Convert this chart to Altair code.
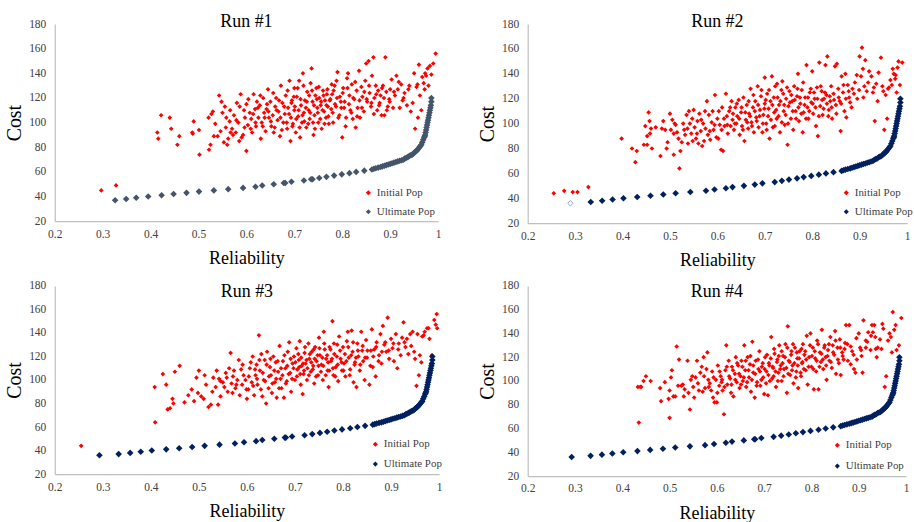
import altair as alt
import pandas as pd

X_TICKS = [0.2, 0.3, 0.4, 0.5, 0.6, 0.7, 0.8, 0.9, 1.0]
Y_TICKS = [20, 40, 60, 80, 100, 120, 140, 160, 180]
TITLES = ["Run #1", "Run #2", "Run #3", "Run #4"]
SERIES = ["Initial Pop", "Ultimate Pop"]

# ---------------- Initial population (red) ----------------
RUN1_INIT_X = [0.297, 0.328, 0.414, 0.416, 0.422, 0.44, 0.443, 0.456, 0.46, 0.487, 0.488, 0.49, 0.501, 0.502,
               0.521, 0.522, 0.525, 0.527, 0.53, 0.532, 0.54, 0.543, 0.546, 0.55, 0.553, 0.555, 0.557, 0.56, 0.562,
               0.565, 0.567, 0.57, 0.574, 0.578, 0.58, 0.583, 0.585, 0.588, 0.59, 0.593, 0.595, 0.597, 0.6, 0.6,
               0.603, 0.607, 0.61, 0.612, 0.615, 0.618, 0.62, 0.622, 0.625, 0.628, 0.63, 0.632, 0.635, 0.637, 0.64,
               0.642, 0.645, 0.647, 0.65, 0.652, 0.655, 0.657, 0.66, 0.662, 0.665, 0.667, 0.67, 0.672, 0.675, 0.677,
               0.68, 0.682, 0.685, 0.687, 0.69, 0.692, 0.693, 0.695, 0.697, 0.7, 0.7,
               0.703, 0.705, 0.708, 0.71, 0.712, 0.714, 0.716, 0.718, 0.72, 0.722, 0.725, 0.727, 0.73, 0.732, 0.734,
               0.736, 0.738, 0.74, 0.742, 0.744, 0.746, 0.748, 0.75, 0.752, 0.755, 0.757, 0.76, 0.762, 0.764, 0.766,
               0.768, 0.77, 0.772, 0.775, 0.778, 0.78, 0.782, 0.785, 0.788, 0.79, 0.792, 0.795, 0.798,
               0.8, 0.802, 0.805, 0.808, 0.81, 0.812, 0.815, 0.817, 0.82, 0.822, 0.825, 0.828, 0.83, 0.832, 0.835,
               0.837, 0.84, 0.842, 0.845, 0.848, 0.85, 0.852, 0.855, 0.857, 0.86, 0.862, 0.865, 0.867, 0.87, 0.873,
               0.875, 0.878, 0.88, 0.882, 0.885, 0.888, 0.89, 0.892, 0.895, 0.898,
               0.9, 0.903, 0.906, 0.91, 0.913, 0.916, 0.92, 0.923, 0.926, 0.93, 0.935, 0.94, 0.943, 0.947, 0.95,
               0.952, 0.955, 0.958, 0.96, 0.962, 0.965, 0.967, 0.97, 0.972, 0.975, 0.978, 0.98, 0.983, 0.986, 0.99, 0.995]
RUN1_INIT_Y = [45, 49, 92, 87, 106, 104, 95, 82, 89, 92, 91, 101, 94, 74,
               104, 78, 82, 107, 109, 89, 89, 122, 93, 108, 84, 113, 96, 82, 87,
               101, 92, 95, 106, 92, 116, 100, 85, 123, 88, 90, 110, 104, 77, 115,
               98, 108, 103, 92, 123, 111, 97, 117, 104, 114, 87, 100, 120, 108, 93,
               111, 127, 104, 117, 97, 106, 92, 113, 120, 102, 109, 89, 130, 116, 100,
               107, 122, 95, 112, 134, 85, 104, 118, 99, 110, 128,
               92, 121, 105, 134, 88, 114, 100, 140, 108, 118, 96, 125, 110, 103, 132,
               144, 117, 90, 106, 122, 128, 112, 100, 120, 114, 95, 126, 109, 118, 104,
               123, 113, 99, 119, 131, 108, 126, 115, 134, 141, 104, 121, 112,
               88, 128, 117, 104, 136, 140, 122, 110, 131, 103, 119, 96, 126, 112, 142,
               104, 129, 121, 109, 134, 148, 117, 150, 124, 113, 138, 153, 120, 130, 110,
               126, 116, 122, 106, 130, 106, 153, 125, 113, 119,
               127, 135, 112, 122, 138, 127, 112, 131, 118, 124, 114, 130, 109, 116, 140,
               95, 129, 104, 147, 122, 110, 137, 132, 127, 138, 144, 130, 146, 139, 148, 156]
RUN1_INIT_MORE = [(0.535, 99), (0.548, 117), (0.558, 104), (0.566, 110), (0.572, 90), (0.579, 102), (0.586, 113),
                  (0.596, 96), (0.604, 119), (0.609, 95), (0.614, 107), (0.619, 100), (0.624, 112), (0.629, 122),
                  (0.634, 97), (0.638, 104), (0.643, 115), (0.646, 109), (0.651, 101), (0.656, 124), (0.659, 96),
                  (0.663, 110), (0.668, 118), (0.671, 104), (0.674, 94), (0.679, 113), (0.684, 100), (0.686, 126),
                  (0.689, 107), (0.694, 116), (0.696, 97), (0.699, 121), (0.701, 113), (0.704, 103), (0.707, 128),
                  (0.709, 110), (0.711, 96), (0.713, 119), (0.717, 106), (0.719, 130), (0.721, 101), (0.724, 112),
                  (0.726, 117), (0.729, 99), (0.731, 122), (0.733, 108), (0.737, 126), (0.739, 100), (0.741, 114),
                  (0.743, 95), (0.747, 119), (0.749, 108), (0.751, 129), (0.754, 103), (0.756, 117), (0.759, 110),
                  (0.761, 122), (0.763, 99), (0.767, 114), (0.769, 127), (0.771, 105), (0.774, 118), (0.777, 111),
                  (0.779, 123), (0.781, 100), (0.784, 130), (0.787, 113), (0.789, 120), (0.794, 106), (0.797, 117),
                  (0.801, 124), (0.804, 112), (0.807, 97), (0.811, 128), (0.814, 115), (0.819, 108), (0.823, 120),
                  (0.827, 133), (0.831, 105), (0.836, 118), (0.841, 112), (0.846, 125), (0.851, 119), (0.856, 130),
                  (0.861, 116), (0.866, 107), (0.871, 123), (0.877, 114), (0.883, 128), (0.887, 120), (0.893, 110),
                  (0.899, 117), (0.908, 125), (0.918, 133), (0.928, 120), (0.938, 127), (0.957, 131), (0.973, 140)]

RUN2_INIT_X = [0.255, 0.277, 0.295, 0.305, 0.328, 0.398, 0.42, 0.427, 0.43, 0.445, 0.448, 0.452, 0.452, 0.455,
               0.457, 0.46, 0.462, 0.48, 0.483, 0.49, 0.493, 0.495, 0.5, 0.502, 0.505, 0.508, 0.51, 0.512, 0.515,
               0.52, 0.522, 0.525, 0.53, 0.532, 0.535, 0.538, 0.54, 0.542, 0.545, 0.548, 0.55, 0.552, 0.555, 0.558,
               0.56, 0.562, 0.565, 0.568, 0.57, 0.572, 0.575, 0.578, 0.58, 0.582, 0.585, 0.588, 0.59, 0.592, 0.595,
               0.598, 0.6,
               0.602, 0.605, 0.608, 0.61, 0.612, 0.615, 0.618, 0.62, 0.622, 0.625, 0.628, 0.63, 0.632, 0.635, 0.638,
               0.64, 0.642, 0.645, 0.647, 0.65, 0.652, 0.655, 0.657, 0.66, 0.662, 0.665, 0.667, 0.67, 0.672, 0.675,
               0.677, 0.68, 0.682, 0.685, 0.687, 0.69, 0.692, 0.695, 0.697, 0.7, 0.7,
               0.703, 0.705, 0.708, 0.71, 0.712, 0.715, 0.717, 0.72, 0.722, 0.725, 0.727, 0.73, 0.732, 0.735, 0.737,
               0.74, 0.742, 0.745, 0.748, 0.75, 0.752, 0.755, 0.758, 0.76, 0.762, 0.765, 0.768, 0.77, 0.772, 0.775,
               0.778, 0.78, 0.782, 0.785, 0.788, 0.79, 0.792, 0.795, 0.798,
               0.8, 0.802, 0.805, 0.808, 0.81, 0.812, 0.815, 0.817, 0.82, 0.822, 0.825, 0.828, 0.83, 0.832, 0.835,
               0.838, 0.84, 0.842, 0.845, 0.848, 0.85, 0.852, 0.855, 0.858, 0.86, 0.862, 0.865, 0.868, 0.87, 0.872,
               0.875, 0.878, 0.88, 0.885, 0.89, 0.895,
               0.9, 0.903, 0.905, 0.907, 0.91, 0.912, 0.915, 0.92, 0.925, 0.93, 0.932, 0.935, 0.94, 0.945, 0.948,
               0.95, 0.952, 0.955, 0.958, 0.96, 0.965, 0.968, 0.97, 0.972, 0.975, 0.978, 0.98, 0.982, 0.985, 0.99]
RUN2_INIT_Y = [44, 46, 45, 45, 49, 88, 80, 69, 78, 83, 98, 83, 90, 109,
               102, 96, 80, 74, 96, 95, 80, 85, 108, 95, 103, 75, 100, 99, 93,
               64, 78, 85, 95, 91, 107, 84, 110, 100, 92, 86, 111, 97, 88, 102,
               84, 108, 94, 82, 100, 86, 96, 118, 91, 107, 87, 101, 110, 95, 123,
               89, 104,
               88, 99, 79, 113, 78, 98, 124, 106, 92, 110, 98, 118, 103, 95, 113,
               100, 106, 119, 91, 109, 98, 121, 86, 103, 115, 96, 108, 128, 101, 113,
               93, 118, 105, 130, 97, 111, 122, 93, 107, 137, 116,
               100, 124, 112, 88, 118, 138, 97, 109, 130, 104, 121, 115, 93, 127, 134,
               110, 99, 120, 83, 114, 126, 104, 118, 95, 130, 110, 122, 140, 102, 116,
               127, 93, 109, 121, 147, 113, 104, 125, 117,
               142, 108, 120, 98, 129, 90, 149, 114, 126, 107, 120, 147, 123, 154, 111,
               118, 130, 104, 124, 146, 115, 148, 128, 118, 94, 138, 125, 110, 140, 105,
               131, 121, 117, 128, 133, 120,
               154, 138, 161, 144, 130, 151, 126, 142, 138, 129, 102, 132, 141, 153, 130,
               126, 95, 123, 104, 128, 135, 131, 144, 140, 136, 125, 145, 150, 131, 149]
RUN2_INIT_MORE = [(0.458, 92), (0.47, 97), (0.486, 102), (0.508, 92), (0.518, 88), (0.528, 100), (0.537, 96),
                  (0.547, 104), (0.557, 92), (0.566, 103), (0.574, 110), (0.584, 94), (0.594, 99), (0.603, 110),
                  (0.609, 95), (0.614, 104), (0.621, 99), (0.627, 113), (0.633, 108), (0.637, 100), (0.641, 116),
                  (0.646, 104), (0.651, 113), (0.654, 95), (0.659, 109), (0.663, 101), (0.666, 118), (0.669, 106),
                  (0.673, 98), (0.676, 123), (0.679, 110), (0.683, 102), (0.686, 115), (0.689, 106), (0.693, 127),
                  (0.696, 100), (0.699, 112), (0.702, 119), (0.704, 95), (0.707, 106), (0.709, 127), (0.713, 103),
                  (0.716, 115), (0.719, 121), (0.721, 98), (0.724, 111), (0.726, 132), (0.729, 106), (0.733, 118),
                  (0.736, 101), (0.739, 124), (0.741, 115), (0.744, 107), (0.747, 129), (0.749, 100), (0.753, 117),
                  (0.756, 123), (0.759, 110), (0.763, 119), (0.766, 104), (0.769, 128), (0.771, 113), (0.774, 121),
                  (0.777, 108), (0.781, 133), (0.784, 115), (0.787, 104), (0.791, 121), (0.794, 110), (0.797, 128),
                  (0.801, 116), (0.804, 125), (0.807, 113), (0.811, 120), (0.814, 106), (0.818, 130), (0.821, 119),
                  (0.824, 112), (0.827, 125), (0.831, 116), (0.834, 106), (0.837, 122), (0.841, 113), (0.846, 119),
                  (0.851, 108), (0.856, 121), (0.861, 116), (0.866, 131), (0.871, 120), (0.877, 126), (0.883, 113),
                  (0.888, 124), (0.894, 139), (0.899, 127), (0.908, 121), (0.918, 133), (0.928, 125), (0.938, 118),
                  (0.962, 129), (0.976, 139)]

RUN3_INIT_X = [0.255, 0.408, 0.409, 0.425, 0.432, 0.435, 0.44, 0.445, 0.447, 0.45, 0.46, 0.47, 0.478, 0.485,
               0.49, 0.495, 0.498, 0.5, 0.505, 0.51, 0.512, 0.52, 0.525, 0.53, 0.535, 0.537, 0.54, 0.542, 0.545,
               0.55, 0.553, 0.556, 0.56, 0.563, 0.566, 0.568, 0.57, 0.573, 0.576, 0.58, 0.583, 0.585, 0.588, 0.59,
               0.593, 0.597, 0.6,
               0.603, 0.606, 0.61, 0.612, 0.615, 0.618, 0.62, 0.622, 0.625, 0.627, 0.63, 0.632, 0.635, 0.637, 0.64,
               0.642, 0.645, 0.648, 0.65, 0.652, 0.655, 0.658, 0.66, 0.662, 0.665, 0.668, 0.67, 0.672, 0.675, 0.677,
               0.68, 0.683, 0.685, 0.688, 0.69, 0.692, 0.695, 0.698, 0.7,
               0.703, 0.705, 0.708, 0.71, 0.712, 0.714, 0.716, 0.718, 0.72, 0.722, 0.725, 0.728, 0.73, 0.733, 0.735,
               0.738, 0.74, 0.742, 0.745, 0.748, 0.75, 0.752, 0.755, 0.758, 0.76, 0.762, 0.765, 0.768, 0.77, 0.772,
               0.775, 0.778, 0.78, 0.782, 0.785, 0.788, 0.79, 0.792, 0.795, 0.798,
               0.8, 0.802, 0.805, 0.808, 0.81, 0.812, 0.815, 0.818, 0.82, 0.822, 0.825, 0.828, 0.83, 0.832, 0.835,
               0.838, 0.84, 0.842, 0.845, 0.848, 0.85, 0.855, 0.858, 0.86, 0.862, 0.865, 0.868, 0.87, 0.875, 0.878,
               0.88, 0.883, 0.886, 0.89, 0.893, 0.896,
               0.9, 0.903, 0.906, 0.91, 0.913, 0.916, 0.92, 0.923, 0.926, 0.93, 0.933, 0.936, 0.94, 0.945, 0.948,
               0.95, 0.953, 0.955, 0.958, 0.96, 0.963, 0.965, 0.97, 0.975, 0.978, 0.98, 0.985, 0.99, 0.993, 0.995, 0.996]
RUN3_INIT_Y = [44, 94, 64, 105, 96, 75, 76, 84, 80, 107, 112, 81, 87, 92,
               82, 102, 89, 108, 86, 84, 104, 77, 79, 102, 94, 108, 79, 101, 86,
               98, 94, 106, 90, 110, 123, 97, 89, 108, 93, 100, 117, 87, 109, 96,
               104, 100, 84,
               92, 110, 98, 120, 87, 104, 113, 96, 138, 108, 122, 86, 100, 117, 80,
               124, 93, 111, 104, 89, 120, 98, 115, 85, 107, 129, 101, 93, 116, 85,
               110, 99, 124, 132, 106, 90, 114, 120, 100,
               127, 109, 117, 133, 96, 112, 88, 105, 123, 114, 100, 131, 118, 107, 124,
               112, 97, 128, 116, 104, 136, 121, 113, 100, 141, 126, 118, 108, 94, 128,
               116, 150, 104, 122, 111, 130, 99, 137, 118, 108,
               128, 114, 103, 133, 141, 119, 109, 142, 124, 98, 115, 94, 131, 120, 108,
               141, 125, 116, 100, 134, 119, 96, 125, 143, 111, 126, 103, 132, 121, 139,
               114, 146, 130, 124, 153, 118,
               135, 127, 116, 139, 110, 131, 121, 136, 149, 128, 135, 122, 139, 141, 124,
               118, 95, 139, 104, 121, 115, 137, 141, 144, 144, 135, 121, 151, 147, 156, 144]
RUN3_INIT_MORE = [(0.515, 96), (0.528, 90), (0.545, 99), (0.558, 102), (0.571, 103), (0.578, 96), (0.591, 113),
                  (0.599, 92), (0.604, 103), (0.608, 115), (0.613, 95), (0.617, 109), (0.621, 101), (0.626, 117),
                  (0.629, 92), (0.633, 106), (0.638, 99), (0.641, 113), (0.646, 103), (0.649, 118), (0.653, 97),
                  (0.657, 108), (0.661, 101), (0.664, 116), (0.667, 93), (0.671, 110), (0.674, 104), (0.678, 121),
                  (0.681, 97), (0.684, 112), (0.687, 105), (0.691, 118), (0.694, 101), (0.697, 110), (0.701, 115),
                  (0.704, 103), (0.707, 122), (0.709, 111), (0.711, 105), (0.713, 119), (0.717, 114), (0.719, 108),
                  (0.721, 128), (0.724, 117), (0.726, 110), (0.729, 104), (0.731, 122), (0.734, 115), (0.737, 109),
                  (0.739, 126), (0.741, 118), (0.744, 103), (0.747, 121), (0.749, 112), (0.751, 127), (0.754, 107),
                  (0.757, 119), (0.759, 112), (0.761, 131), (0.764, 104), (0.767, 121), (0.769, 115), (0.771, 108),
                  (0.774, 126), (0.777, 118), (0.779, 110), (0.781, 131), (0.784, 103), (0.787, 120), (0.789, 113),
                  (0.794, 125), (0.797, 115), (0.801, 108), (0.804, 122), (0.807, 116), (0.811, 128), (0.814, 104),
                  (0.817, 121), (0.821, 132), (0.824, 113), (0.827, 119), (0.831, 125), (0.836, 113), (0.841, 129),
                  (0.846, 119), (0.851, 125), (0.857, 112), (0.863, 120), (0.869, 128), (0.874, 116), (0.881, 124),
                  (0.888, 132), (0.895, 125), (0.905, 131), (0.915, 126), (0.928, 132), (0.942, 129), (0.968, 138)]

RUN4_INIT_X = [0.433, 0.435, 0.438, 0.44, 0.445, 0.45, 0.46, 0.48, 0.482, 0.49, 0.498, 0.5, 0.5, 0.503,
               0.505, 0.508, 0.512, 0.515, 0.518, 0.52, 0.525, 0.53, 0.532, 0.538, 0.54, 0.543, 0.548, 0.55, 0.552,
               0.555, 0.558, 0.56, 0.565, 0.568, 0.57, 0.572, 0.575, 0.578, 0.58, 0.582, 0.585, 0.588, 0.59, 0.592,
               0.595, 0.598, 0.6,
               0.602, 0.605, 0.608, 0.61, 0.612, 0.615, 0.618, 0.62, 0.622, 0.625, 0.628, 0.63, 0.632, 0.635, 0.638,
               0.64, 0.642, 0.645, 0.648, 0.65, 0.652, 0.655, 0.658, 0.66, 0.662, 0.665, 0.668, 0.67, 0.672, 0.675,
               0.677, 0.68, 0.682, 0.685, 0.688, 0.69, 0.692, 0.695, 0.698, 0.7,
               0.702, 0.705, 0.708, 0.71, 0.712, 0.715, 0.718, 0.72, 0.722, 0.725, 0.728, 0.73, 0.732, 0.735, 0.737,
               0.74, 0.742, 0.745, 0.748, 0.75, 0.752, 0.755, 0.758, 0.76, 0.762, 0.765, 0.768, 0.77, 0.772, 0.775,
               0.778, 0.78, 0.782, 0.785, 0.788, 0.79, 0.792, 0.795, 0.798,
               0.8, 0.803, 0.805, 0.808, 0.81, 0.812, 0.815, 0.818, 0.82, 0.822, 0.825, 0.828, 0.83, 0.832, 0.835,
               0.838, 0.84, 0.843, 0.845, 0.848, 0.85, 0.852, 0.855, 0.858, 0.86, 0.862, 0.865, 0.868, 0.87, 0.873,
               0.876, 0.88, 0.883, 0.886, 0.89, 0.893, 0.896,
               0.9, 0.903, 0.906, 0.908, 0.91, 0.915, 0.918, 0.92, 0.925, 0.928, 0.93, 0.933, 0.935, 0.938, 0.94,
               0.945, 0.948, 0.95, 0.952, 0.955, 0.958, 0.965, 0.968, 0.97, 0.972, 0.975, 0.978, 0.98, 0.985, 0.99]
RUN4_INIT_Y = [95, 65, 95, 95, 100, 104, 100, 94, 83, 99, 85, 92, 69, 103,
               109, 87, 87, 129, 96, 118, 96, 87, 93, 117, 90, 76, 104, 95, 86,
               103, 117, 98, 107, 112, 91, 120, 94, 110, 124, 101, 98, 92, 108, 86,
               82, 101, 82,
               113, 96, 104, 99, 92, 72, 109, 130, 97, 117, 102, 90, 112, 87, 106,
               120, 99, 113, 94, 104, 117, 100, 130, 109, 95, 120, 103, 114, 91, 133,
               107, 86, 117, 99, 110, 125, 96, 112, 103, 89,
               120, 108, 88, 115, 100, 137, 112, 104, 123, 95, 118, 107, 130, 113, 100,
               121, 110, 131, 90, 146, 117, 105, 125, 113, 98, 128, 108, 119, 94, 125,
               104, 115, 131, 122, 109, 138, 97, 120, 140,
               112, 128, 93, 119, 108, 134, 93, 124, 116, 143, 110, 130, 120, 101, 126,
               117, 137, 111, 130, 122, 142, 106, 128, 115, 135, 105, 124, 118, 127, 147,
               131, 147, 114, 125, 110, 107, 118,
               140, 128, 121, 107, 151, 128, 133, 141, 126, 147, 141, 147, 137, 120, 128,
               135, 127, 148, 144, 95, 104, 140, 137, 124, 158, 143, 147, 126, 130, 153]
RUN4_INIT_MORE = [(0.528, 97), (0.545, 101), (0.562, 92), (0.573, 104), (0.583, 95), (0.593, 103), (0.601, 90),
                  (0.606, 108), (0.611, 101), (0.616, 95), (0.621, 112), (0.626, 104), (0.631, 97), (0.634, 109),
                  (0.639, 101), (0.643, 115), (0.647, 106), (0.651, 97), (0.654, 112), (0.657, 103), (0.661, 117),
                  (0.664, 99), (0.667, 109), (0.671, 121), (0.674, 101), (0.677, 113), (0.681, 106), (0.684, 96),
                  (0.687, 118), (0.691, 108), (0.694, 101), (0.697, 115), (0.701, 110), (0.704, 98), (0.706, 122),
                  (0.709, 105), (0.711, 113), (0.714, 119), (0.717, 102), (0.719, 111), (0.721, 127), (0.724, 108),
                  (0.727, 116), (0.729, 100), (0.731, 121), (0.734, 110), (0.737, 125), (0.739, 115), (0.741, 104),
                  (0.744, 120), (0.747, 111), (0.749, 128), (0.751, 106), (0.754, 116), (0.757, 122), (0.759, 109),
                  (0.761, 131), (0.764, 115), (0.767, 103), (0.769, 124), (0.771, 113), (0.774, 119), (0.777, 107),
                  (0.779, 127), (0.781, 116), (0.784, 110), (0.787, 125), (0.789, 118), (0.794, 112), (0.797, 130),
                  (0.801, 121), (0.804, 110), (0.807, 125), (0.811, 117), (0.814, 131), (0.817, 112), (0.821, 123),
                  (0.824, 118), (0.827, 128), (0.831, 113), (0.834, 121), (0.837, 131), (0.841, 116), (0.846, 124),
                  (0.851, 134), (0.856, 118), (0.861, 128), (0.866, 121), (0.871, 132), (0.877, 117), (0.883, 129),
                  (0.889, 122), (0.895, 136), (0.905, 126), (0.915, 134), (0.926, 138), (0.936, 127), (0.962, 134)]

# ---------------- Ultimate population (Pareto front) ----------------
RUN1_FRONT_HEAD_X = [0.326, 0.349, 0.370, 0.395, 0.423, 0.448, 0.475, 0.501, 0.532, 0.562, 0.593, 0.619, 0.633,
                     0.657, 0.678, 0.681, 0.694, 0.720, 0.735, 0.738, 0.752, 0.767, 0.783, 0.799, 0.815, 0.829, 0.846]
RUN1_FRONT_HEAD_Y = [37, 38, 39, 40, 41, 42, 43, 44, 45, 46, 47, 48, 49,
                     50, 51, 51, 52, 53, 54, 54, 55, 56, 57, 58, 59, 60, 61]
RUN2_FRONT_HEAD_X = [0.333, 0.357, 0.379, 0.402, 0.431, 0.459, 0.486, 0.512, 0.543, 0.576, 0.594, 0.618, 0.632,
                     0.656, 0.679, 0.695, 0.721, 0.736, 0.751, 0.768, 0.782, 0.798, 0.814, 0.829, 0.845]
RUN2_FRONT_HEAD_Y = [37, 38, 39, 40, 41, 42, 43, 44, 45, 46, 47, 48, 49,
                     50, 51, 52, 53, 54, 55, 56, 57, 58, 59, 60, 61]
RUN34_FRONT_HEAD_X = [0.293, 0.333, 0.357, 0.379, 0.402, 0.432, 0.459, 0.486, 0.512, 0.543, 0.575, 0.594, 0.619,
                      0.632, 0.657, 0.679, 0.681, 0.694, 0.720, 0.736, 0.752, 0.767, 0.782, 0.798, 0.815, 0.830, 0.846]
RUN34_FRONT_HEAD_Y = [36, 37, 38, 39, 40, 41, 42, 43, 44, 45, 46, 47, 48,
                      49, 50, 51, 51, 52, 53, 54, 55, 56, 57, 58, 59, 60, 61]
FRONT_TAIL_X = [0.862, 0.866, 0.870, 0.875, 0.880, 0.884, 0.888, 0.892, 0.896, 0.900, 0.904, 0.908, 0.912,
                0.916, 0.920, 0.924, 0.928, 0.931, 0.934, 0.937, 0.940, 0.943, 0.946, 0.949, 0.951, 0.953, 0.955,
                0.957, 0.959, 0.961, 0.963, 0.965, 0.967, 0.969, 0.971, 0.972, 0.973, 0.974, 0.975, 0.976, 0.977,
                0.978, 0.979, 0.980, 0.981, 0.982, 0.983, 0.984, 0.985, 0.986, 0.986]
FRONT_TAIL_Y = [62, 62.5, 63, 63.5, 64, 64.5, 65, 65.5, 66, 66.5, 67, 67.5, 68,
                68.5, 69, 69.5, 70, 71, 71.5, 72, 73, 73.5, 74, 75, 76, 76.5, 77,
                78, 79, 80, 81, 82, 84, 86, 88, 89, 90, 92, 94, 96, 98,
                100, 102, 104, 106, 108, 110, 112, 114, 117, 120]
RUN2_HOLLOW_X = [0.29]
RUN2_HOLLOW_Y = [36]

SERIF = "Liberation Serif, Times New Roman, DejaVu Serif, serif"


def panel(title, ix, iy, more, fx, fy, front_color, w, h, lx, ly, row_pad, title_y, hollow=None):
    all_x = list(ix) + [p[0] for p in more]
    all_y = list(iy) + [p[1] for p in more]
    df_i = pd.DataFrame({"Reliability": all_x, "Cost": all_y, "series": SERIES[0]})
    df_f = pd.DataFrame({"Reliability": fx, "Cost": fy, "series": SERIES[1]})
    xenc = alt.X("Reliability:Q", scale=alt.Scale(domain=[0.2, 1.0], nice=False, zero=False),
                 axis=alt.Axis(values=X_TICKS, format="~g", title="Reliability", titleFontSize=18,
                               labelPadding=7, titlePadding=10, labelFlush=False, labelOverlap=False))
    yenc = alt.Y("Cost:Q", scale=alt.Scale(domain=[20, 180], nice=False, zero=False),
                 axis=alt.Axis(values=Y_TICKS, title="Cost", titleFontSize=20,
                               labelPadding=9, titlePadding=4, labelOverlap=False))
    cenc = alt.Color("series:N",
                     scale=alt.Scale(domain=SERIES, range=["#FF0000", front_color]),
                     legend=alt.Legend(title=None, orient="none", legendX=lx, legendY=ly,
                                       symbolType="diamond", symbolSize=26, symbolStrokeWidth=0,
                                       labelFont=SERIF, labelFontSize=11, labelColor="#404040",
                                       labelOffset=3, rowPadding=row_pad, padding=0))
    red = alt.Chart(df_i).mark_point(shape="diamond", filled=True, size=22, opacity=1).encode(
        x=xenc, y=yenc, color=cenc)
    ult = alt.Chart(df_f).mark_point(shape="diamond", filled=True, size=44, opacity=1).encode(
        x=xenc, y=yenc, color=cenc)
    ttl = alt.Chart(pd.DataFrame({"t": [title]})).mark_text(
        font=SERIF, fontSize=18, color="black", align="center", baseline="alphabetic"
    ).encode(text="t:N", x=alt.value(w / 2), y=alt.value(title_y))
    layers = [red, ult]
    if hollow is not None:
        df_h = pd.DataFrame({"Reliability": hollow[0], "Cost": hollow[1]})
        layers.append(alt.Chart(df_h).mark_point(shape="diamond", filled=False, size=30, opacity=1,
                                                 color="#8EA4C8", strokeWidth=1).encode(x=xenc, y=yenc))
    layers.append(ttl)
    return alt.layer(*layers).properties(width=w, height=h)


p1 = panel(TITLES[0], RUN1_INIT_X, RUN1_INIT_Y, RUN1_INIT_MORE,
           RUN1_FRONT_HEAD_X + FRONT_TAIL_X, RUN1_FRONT_HEAD_Y + FRONT_TAIL_Y,
           "#44546A", 385, 198, 309.5, 164, 7, 3)
p2 = panel(TITLES[1], RUN2_INIT_X, RUN2_INIT_Y, RUN2_INIT_MORE,
           RUN2_FRONT_HEAD_X + FRONT_TAIL_X, RUN2_FRONT_HEAD_Y + FRONT_TAIL_Y,
           "#002060", 381, 200, 314.5, 164, 7, 3, hollow=(RUN2_HOLLOW_X, RUN2_HOLLOW_Y))
p3 = panel(TITLES[2], RUN3_INIT_X, RUN3_INIT_Y, RUN3_INIT_MORE,
           RUN34_FRONT_HEAD_X + FRONT_TAIL_X, RUN34_FRONT_HEAD_Y + FRONT_TAIL_Y,
           "#002060", 386, 189, 316.5, 153.5, 8, 11)
p4 = panel(TITLES[3], RUN4_INIT_X, RUN4_INIT_Y, RUN4_INIT_MORE,
           RUN34_FRONT_HEAD_X + FRONT_TAIL_X, RUN34_FRONT_HEAD_Y + FRONT_TAIL_Y,
           "#002060", 380, 191, 305.5, 154.5, 9, 11)

chart = alt.concat(p1, p2, p3, p4, columns=2, spacing=alt.RowColnumber(row=10, column=34)).resolve_scale(
    color="independent"
).properties(
    padding={"left": 4, "top": 12, "right": 0, "bottom": 0},
    background="white",
).configure_axis(
    grid=False, ticks=False, domainColor="#BFBFBF", domainWidth=1.2,
    labelFont=SERIF, labelFontSize=11.5, labelColor="#404040",
    titleFont=SERIF, titleFontWeight="normal", titleColor="black",
).configure_view(stroke=None)

chart.save("out.html", embed_options={"renderer": "svg", "actions": False})
